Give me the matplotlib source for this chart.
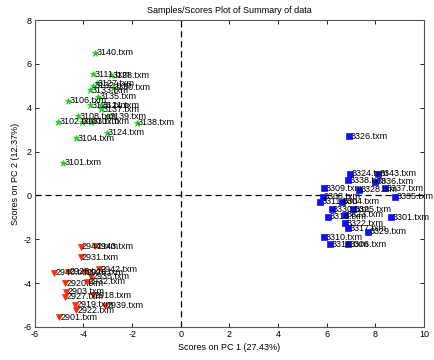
import matplotlib
matplotlib.use('Agg')
import matplotlib.pyplot as plt

plt.rcParams['font.family'] = ['Liberation Sans', 'DejaVu Sans']
plt.rcParams['axes.unicode_minus'] = False

# class 1 (green stars)
g_names = ['3140', '3111', '3128', '3127', '3130', '3133', '3132', '3135', '3106',
           '3126', '3121', '3137', '3108', '3139', '3102', '3103', '3107', '3138',
           '3124', '3104', '3101']
g_x = [-3.53, -3.60, -2.85, -3.46, -2.80, -3.74, -3.60, -3.41, -4.63,
       -3.74, -3.26, -3.26, -4.22, -2.99, -5.04, -4.08, -3.67, -1.82,
       -3.05, -4.29, -4.84]
g_y = [6.51, 5.52, 5.49, 5.11, 4.92, 4.80, 5.00, 4.50, 4.32,
       4.12, 4.12, 3.93, 3.62, 3.62, 3.36, 3.36, 3.36, 3.32,
       2.86, 2.60, 1.49]

# class 2 (red triangles)
r_names = ['2943', '2944', '2931', '2942', '2940', '2925', '2926', '2935', '2932',
           '2920', '2903', '2927', '2918', '2919', '2939', '2922', '2901']
r_x = [-3.53, -4.12, -4.12, -3.36, -5.22, -4.63, -3.95, -3.67, -3.85,
       -4.77, -4.70, -4.77, -3.60, -4.36, -3.12, -4.29, -5.00]
r_y = [-2.31, -2.34, -2.82, -3.37, -3.52, -3.48, -3.50, -3.71, -3.95,
       -4.00, -4.39, -4.62, -4.55, -5.00, -5.04, -5.23, -5.56]

# class 3 (blue squares)
b_names = ['3326', '3324', '3343', '3338', '3336', '3309', '3328', '3337', '3335',
           '3308', '3311', '3304', '3330', '3325', '3318', '3323', '3301', '3322',
           '3317', '3329', '3310', '3316', '3306']
b_x = [6.93, 6.96, 8.12, 6.89, 7.98, 5.89, 7.34, 8.40, 8.81,
       5.83, 5.72, 6.61, 6.20, 7.09, 6.06, 6.75, 8.63, 6.75,
       6.89, 7.71, 5.89, 6.13, 6.89]
b_y = [2.71, 0.98, 0.98, 0.70, 0.63, 0.32, 0.25, 0.32, -0.06,
       -0.06, -0.29, -0.29, -0.63, -0.63, -0.97, -0.89, -1.00, -1.27,
       -1.50, -1.65, -1.91, -2.22, -2.22]

fig = plt.figure(figsize=(4.35, 3.6), dpi=100)
ax = fig.add_axes([0.080, 0.092, 0.895, 0.852])

ax.axvline(0, color='black', linestyle='--', linewidth=0.9, dashes=(5, 3), zorder=1)
ax.axhline(0, color='black', linestyle='--', linewidth=0.9, dashes=(5, 3), zorder=1)

groups = [
    (g_names, g_x, g_y, '*', '#22cc22', 5),
    (r_names, r_x, r_y, 'v', '#ff2a00', 5),
    (b_names, b_x, b_y, 's', '#1010ff', 4.5),
]
for names, xs, ys, mk, col, ms in groups:
    ax.plot(xs, ys, linestyle='none', marker=mk, color=col,
            markersize=ms, markeredgewidth=0.5, zorder=3)
    for n, x, y in zip(names, xs, ys):
        ax.text(x + 0.06, y, n + '.txm', fontsize=6.5, va='center',
                ha='left', color='black', zorder=4)

ax.set_xlim(-6, 10)
ax.set_ylim(-6, 8)
ax.set_xticks(range(-6, 11, 2))
ax.set_yticks(range(-6, 9, 2))
ax.tick_params(direction='in', top=True, right=True, labelsize=6.5,
               length=3, width=0.6, pad=2)
for sp in ax.spines.values():
    sp.set_color('#555555')
    sp.set_linewidth(0.8)

ax.set_xlabel('Scores on PC 1 (27.43%)', fontsize=6.5, labelpad=3)
ax.set_ylabel('Scores on PC 2 (12.37%)', fontsize=6.5, labelpad=3)
ax.set_title('Samples/Scores Plot of Summary of data', fontsize=6.5, pad=5)

fig.savefig('out.png', dpi=100)
